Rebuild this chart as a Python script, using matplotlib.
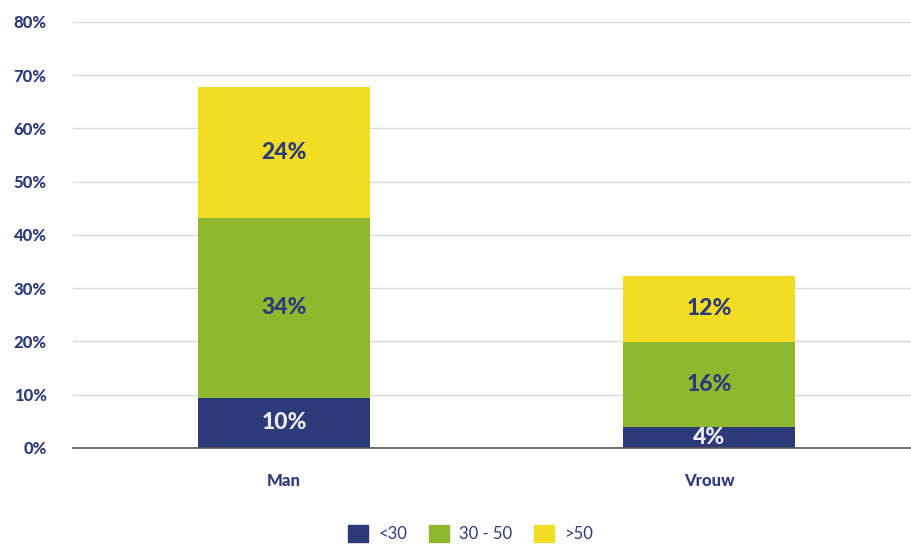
import numpy as np
import matplotlib
matplotlib.use('Agg')
import matplotlib.pyplot as plt
from matplotlib.patches import Patch

# data
categories = ['Man', 'Vrouw']
groups = ['<30', '30 - 50', '>50']
under_30 = [9.4, 3.9]
mid_30_50 = [33.8, 16.0]
over_50 = [24.6, 12.4]
labels_under_30 = ['10%', '4%']
labels_mid = ['34%', '16%']
labels_over = ['24%', '12%']

navy = '#2d3a7a'
green = '#8fb82f'
yellow = '#f2dd24'

plt.rcParams['font.family'] = ['Lato', 'DejaVu Sans']

fig = plt.figure(figsize=(9.12, 5.45), dpi=100)
ax = fig.add_axes([0.080, 0.178, 0.920, 0.782])

x = np.arange(len(categories))
w = 0.405
series = [under_30, mid_30_50, over_50]
texts = [labels_under_30, labels_mid, labels_over]
colors = [navy, green, yellow]
text_colors = ['#ececf2', navy, navy]

bottom = np.zeros(len(categories))
for vals, labs, c, tc in zip(series, texts, colors, text_colors):
    vals = np.array(vals)
    ax.bar(x, vals, w, bottom=bottom, color=c, zorder=3)
    for xi, b, v, lab in zip(x, bottom, vals, labs):
        ax.text(xi, b + v / 2, lab, ha='center', va='center', color=tc,
                fontsize=16.5, fontweight='black', zorder=4)
    bottom += vals

ax.set_xlim(-0.4965, 1.4776)
ax.set_ylim(0, 80)
ax.set_yticks(np.arange(0, 81, 10))
ax.set_yticklabels([f'{t}%' for t in range(0, 81, 10)])
ax.set_xticks(x)
ax.set_xticklabels(categories)
ax.yaxis.grid(True, color='#d9d9d9', linewidth=1, zorder=0)
for s in ['top', 'right', 'left']:
    ax.spines[s].set_visible(False)
ax.spines['bottom'].set_color('#555555')
ax.spines['bottom'].set_linewidth(1.2)
ax.spines['bottom'].set_zorder(5)
ax.tick_params(axis='both', length=0, colors=navy)
ax.tick_params(axis='y', pad=19)
ax.tick_params(axis='x', pad=18)
for t in ax.get_yticklabels() + ax.get_xticklabels():
    t.set_fontweight('black')
    t.set_fontsize(12)

handles = [Patch(color=c, label=g) for c, g in zip(colors, groups)]
leg = fig.legend(handles=handles, loc='lower center', ncol=3,
                 bbox_to_anchor=(0.516, -0.022), frameon=False,
                 handlelength=1.2, handleheight=1.2, handletextpad=0.6,
                 columnspacing=1.3, fontsize=12)
for t in leg.get_texts():
    t.set_color(navy)

fig.savefig('out.png', dpi=100)
